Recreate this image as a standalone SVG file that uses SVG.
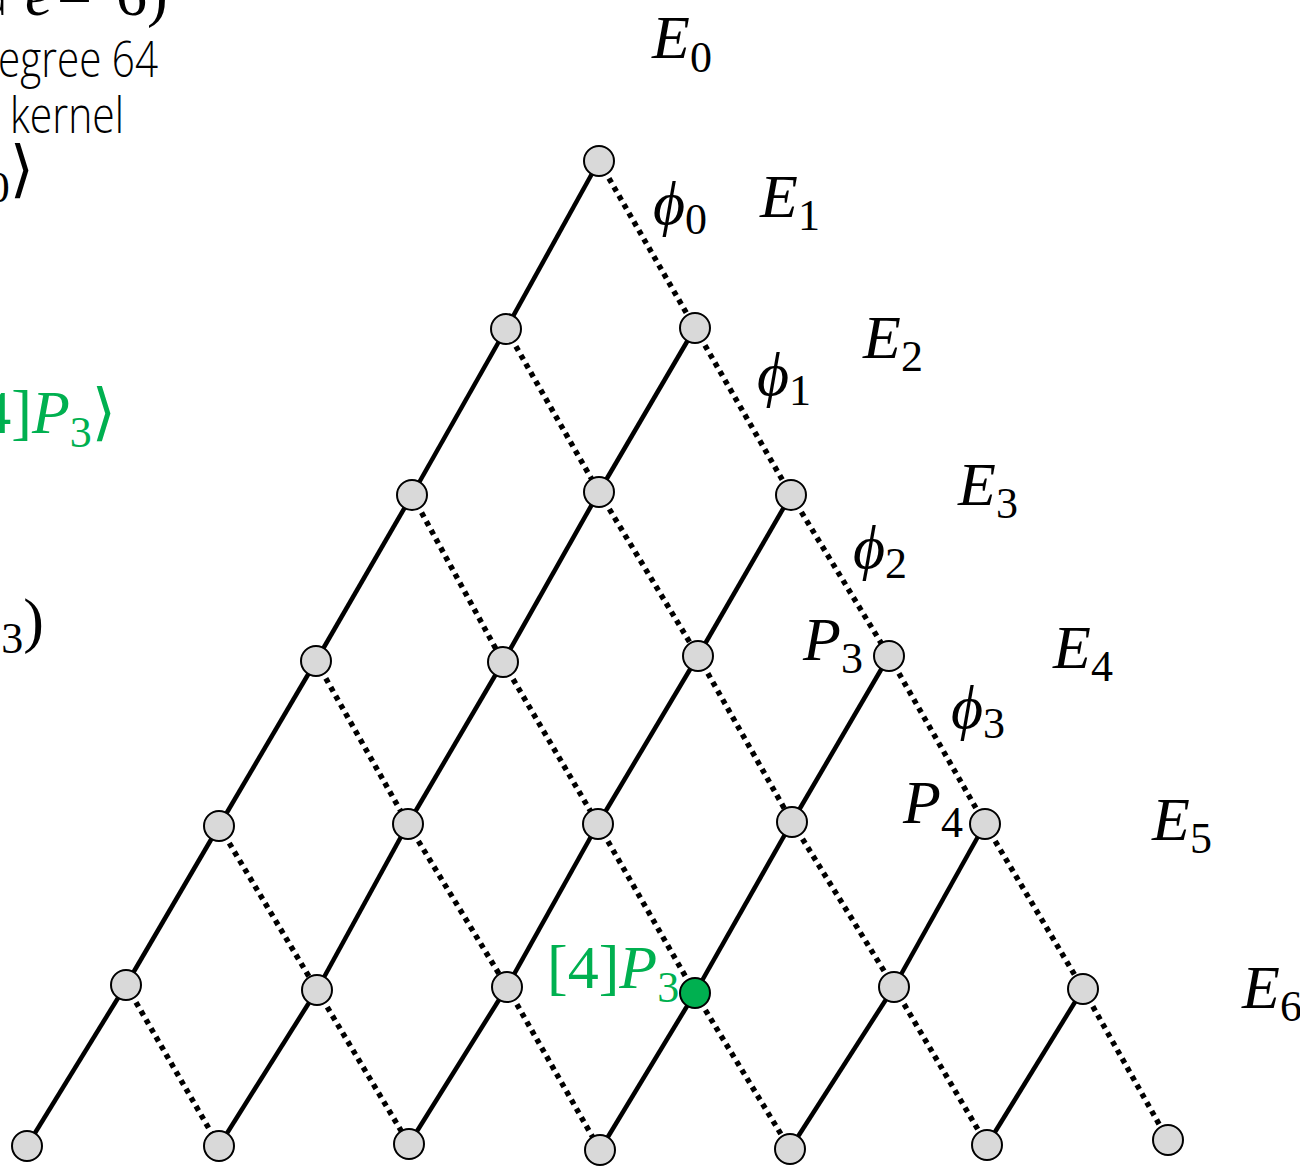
<svg xmlns="http://www.w3.org/2000/svg" width="1300" height="1167" viewBox="0 0 1300 1167">
<style>
.solid{stroke:#000;stroke-width:4.5;fill:none}
.dot{stroke:#000;stroke-width:5.5;fill:none;stroke-dasharray:5 5}
.node{fill:#d9d9d9;stroke:#000;stroke-width:2}
.green{fill:#00b050;stroke:#000;stroke-width:2}
.m{font-family:"Liberation Serif","DejaVu Serif",serif;font-size:62px;font-style:italic;fill:#000}
.s{font-size:44px;font-style:normal}
.u{font-style:normal}
.t{font-family:"Open Sans","Liberation Sans",sans-serif;font-weight:300;font-size:50px;fill:#000}
.g{fill:#00b050}
</style>
<rect width="1300" height="1167" fill="#fff"/>
<g id="connectors">
<line class="solid" x1="599" y1="161" x2="506" y2="329"/>
<line class="solid" x1="506" y1="329" x2="412" y2="495"/>
<line class="solid" x1="412" y1="495" x2="316" y2="661"/>
<line class="solid" x1="316" y1="661" x2="219" y2="826"/>
<line class="solid" x1="219" y1="826" x2="126" y2="985"/>
<line class="solid" x1="126" y1="985" x2="27" y2="1146"/>
<line class="solid" x1="695" y1="328" x2="599" y2="492"/>
<line class="solid" x1="599" y1="492" x2="503" y2="662"/>
<line class="solid" x1="503" y1="662" x2="408" y2="824"/>
<line class="solid" x1="408" y1="824" x2="317" y2="990"/>
<line class="solid" x1="317" y1="990" x2="219" y2="1146"/>
<line class="solid" x1="791" y1="495" x2="698" y2="656"/>
<line class="solid" x1="698" y1="656" x2="598" y2="824"/>
<line class="solid" x1="598" y1="824" x2="507" y2="987"/>
<line class="solid" x1="507" y1="987" x2="409" y2="1144"/>
<line class="solid" x1="889" y1="656" x2="792" y2="822"/>
<line class="solid" x1="792" y1="822" x2="695" y2="993"/>
<line class="solid" x1="695" y1="993" x2="600" y2="1150"/>
<line class="solid" x1="985" y1="824" x2="894" y2="987"/>
<line class="solid" x1="894" y1="987" x2="790" y2="1149"/>
<line class="solid" x1="1083" y1="989" x2="987" y2="1145"/>
<line class="dot" x1="599" y1="161" x2="695" y2="328"/>
<line class="dot" x1="695" y1="328" x2="791" y2="495"/>
<line class="dot" x1="791" y1="495" x2="889" y2="656"/>
<line class="dot" x1="889" y1="656" x2="985" y2="824"/>
<line class="dot" x1="985" y1="824" x2="1083" y2="989"/>
<line class="dot" x1="1083" y1="989" x2="1168" y2="1140"/>
<line class="dot" x1="506" y1="329" x2="599" y2="492"/>
<line class="dot" x1="599" y1="492" x2="698" y2="656"/>
<line class="dot" x1="698" y1="656" x2="792" y2="822"/>
<line class="dot" x1="792" y1="822" x2="894" y2="987"/>
<line class="dot" x1="894" y1="987" x2="987" y2="1145"/>
<line class="dot" x1="412" y1="495" x2="503" y2="662"/>
<line class="dot" x1="503" y1="662" x2="598" y2="824"/>
<line class="dot" x1="598" y1="824" x2="695" y2="993"/>
<line class="dot" x1="695" y1="993" x2="790" y2="1149"/>
<line class="dot" x1="316" y1="661" x2="408" y2="824"/>
<line class="dot" x1="408" y1="824" x2="507" y2="987"/>
<line class="dot" x1="507" y1="987" x2="600" y2="1150"/>
<line class="dot" x1="219" y1="826" x2="317" y2="990"/>
<line class="dot" x1="317" y1="990" x2="409" y2="1144"/>
<line class="dot" x1="126" y1="985" x2="219" y2="1146"/>
</g>
<g id="nodes">
<g id="n0-0"><circle class="node" cx="599" cy="161" r="15"/></g>
<g id="n1-0"><circle class="node" cx="506" cy="329" r="15"/></g>
<g id="n1-1"><circle class="node" cx="695" cy="328" r="15"/></g>
<g id="n2-0"><circle class="node" cx="412" cy="495" r="15"/></g>
<g id="n2-1"><circle class="node" cx="599" cy="492" r="15"/></g>
<g id="n2-2"><circle class="node" cx="791" cy="495" r="15"/></g>
<g id="n3-0"><circle class="node" cx="316" cy="661" r="15"/></g>
<g id="n3-1"><circle class="node" cx="503" cy="662" r="15"/></g>
<g id="n3-2"><circle class="node" cx="698" cy="656" r="15"/></g>
<g id="n3-3"><circle class="node" cx="889" cy="656" r="15"/></g>
<g id="n4-0"><circle class="node" cx="219" cy="826" r="15"/></g>
<g id="n4-1"><circle class="node" cx="408" cy="824" r="15"/></g>
<g id="n4-2"><circle class="node" cx="598" cy="824" r="15"/></g>
<g id="n4-3"><circle class="node" cx="792" cy="822" r="15"/></g>
<g id="n4-4"><circle class="node" cx="985" cy="824" r="15"/></g>
<g id="n5-0"><circle class="node" cx="126" cy="985" r="15"/></g>
<g id="n5-1"><circle class="node" cx="317" cy="990" r="15"/></g>
<g id="n5-2"><circle class="node" cx="507" cy="987" r="15"/></g>
<g id="n5-3"><circle class="green" cx="695" cy="993" r="15"/></g>
<g id="n5-4"><circle class="node" cx="894" cy="987" r="15"/></g>
<g id="n5-5"><circle class="node" cx="1083" cy="989" r="15"/></g>
<g id="n6-0"><circle class="node" cx="27" cy="1146" r="15"/></g>
<g id="n6-1"><circle class="node" cx="219" cy="1146" r="15"/></g>
<g id="n6-2"><circle class="node" cx="409" cy="1144" r="15"/></g>
<g id="n6-3"><circle class="node" cx="600" cy="1150" r="15"/></g>
<g id="n6-4"><circle class="node" cx="790" cy="1149" r="15"/></g>
<g id="n6-5"><circle class="node" cx="987" cy="1145" r="15"/></g>
<g id="n6-6"><circle class="node" cx="1168" cy="1140" r="15"/></g>
</g>
<g id="labels">
<text class="m" x="652" y="58">E<tspan class="s" dy="14">0</tspan></text>
<text class="m" x="760" y="217">E<tspan class="s" dy="13">1</tspan></text>
<text class="m" x="863" y="358">E<tspan class="s" dy="13">2</tspan></text>
<text class="m" x="958" y="505">E<tspan class="s" dy="13">3</tspan></text>
<text class="m" x="1053" y="668">E<tspan class="s" dy="13">4</tspan></text>
<text class="m" x="1152" y="840">E<tspan class="s" dy="13">5</tspan></text>
<text class="m" x="1242" y="1008">E<tspan class="s" dy="13">6</tspan></text>
<text class="m" x="653" y="224">ϕ<tspan class="s" dy="10">0</tspan></text>
<text class="m" x="757" y="395">ϕ<tspan class="s" dy="10">1</tspan></text>
<text class="m" x="853" y="568">ϕ<tspan class="s" dy="10">2</tspan></text>
<text class="m" x="951" y="728">ϕ<tspan class="s" dy="10">3</tspan></text>
<text class="m" x="803" y="660">P<tspan class="s" dy="13">3</tspan></text>
<text class="m" x="903" y="823">P<tspan class="s" dy="14">4</tspan></text>
<text class="m g" x="547" y="988"><tspan class="u">[4]</tspan>P<tspan class="s" dy="14">3</tspan></text>
</g>
<g id="side-text">
<text class="t" x="-22" y="15">d</text>
<text class="m" x="25" y="15">e<tspan class="u" x="57">=</tspan><tspan class="u" x="116">6)</tspan></text>
<text class="t" x="-2" y="77" textLength="160" lengthAdjust="spacingAndGlyphs">egree 64</text>
<text class="t" x="10" y="133" textLength="114" lengthAdjust="spacingAndGlyphs">kernel</text>
<text class="m" x="34" y="190" text-anchor="end">P<tspan class="s" dy="12">0</tspan><tspan class="u" dy="-12">⟩</tspan></text>
<text class="m g" x="116" y="433" text-anchor="end"><tspan class="u">4]</tspan>P<tspan class="s" dy="14">3</tspan><tspan class="u" dy="-14">⟩</tspan></text>
<text class="m" x="44" y="641" text-anchor="end">P<tspan class="s" dy="12">3</tspan><tspan class="u" dy="-12">)</tspan></text>
</g>
</svg>
